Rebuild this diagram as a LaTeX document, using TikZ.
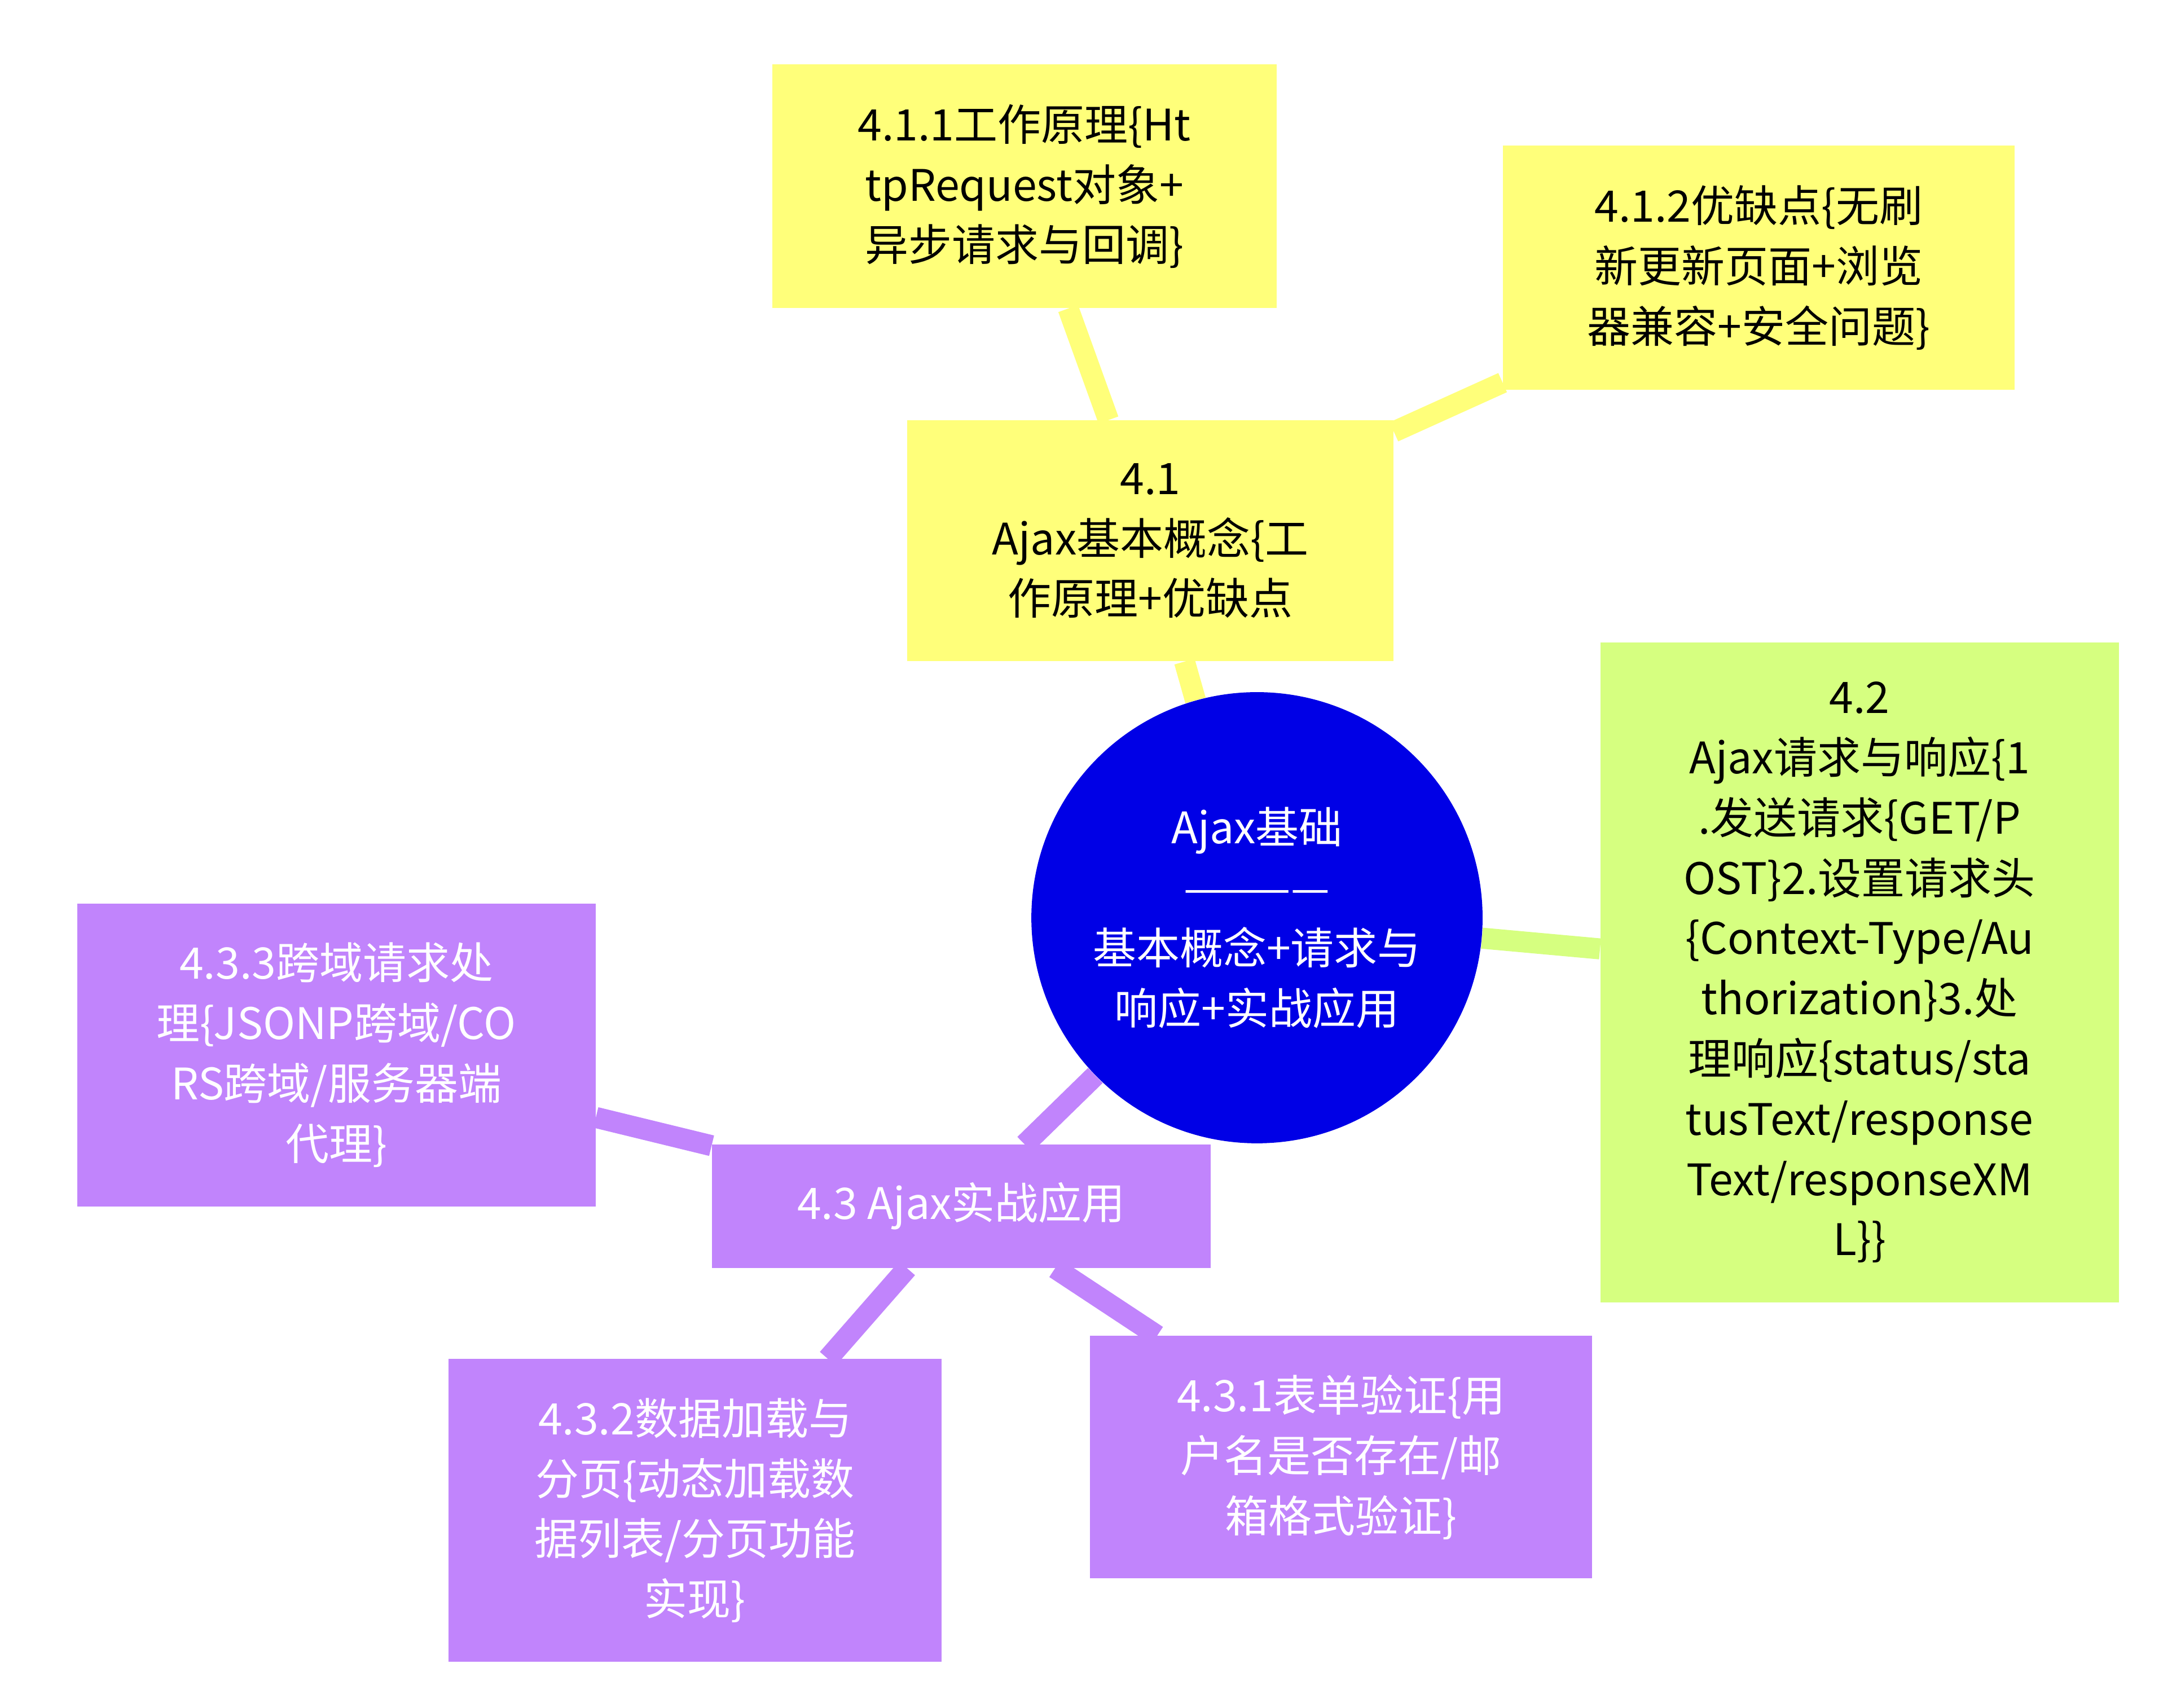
\documentclass[tikz,border=0pt]{standalone}
\usepackage{fontspec}
\setmainfont{Noto Sans CJK SC}
\usetikzlibrary{positioning,backgrounds}
\definecolor{rootblue}{RGB}{0,0,230}
\definecolor{yel}{RGB}{255,255,122}
\definecolor{grn}{RGB}{214,255,128}
\definecolor{pur}{RGB}{193,132,252}
\tikzset{
	every node/.style={align=center,inner sep=0pt,font=\fontsize{31}{43}\selectfont},
	topic/.style={rectangle,fill=#1},
	link/.style={line width=15pt,draw=#1},
}
\begin{document}
\begin{tikzpicture}[x=1pt,y=-1pt]
	\useasboundingbox (0,0) rectangle (1550,1219);
	% root.....................
	\node [circle,fill=rootblue,minimum size=322pt,text=white] (root) at (897,655) {Ajax基础\\————\\基本概念+请求与\\响应+实战应用};
	
	% 4.1 branch...............
	\node [topic=yel,minimum width=347pt,minimum height=172pt] (n41) at (821,386) {4.1\\Ajax基本概念\{工\\作原理+优缺点};
	\node [topic=yel,minimum width=360pt,minimum height=174pt] (n411) at (731,133) {4.1.1工作原理\{Ht\\tpRequest对象+\\异步请求与回调\}};
	\node [topic=yel,minimum width=365pt,minimum height=174pt] (n412) at (1255,191) {4.1.2优缺点\{无刷\\新更新页面+浏览\\器兼容+安全问题\}};
	
	% 4.2 branch...............
	\node [topic=grn,minimum width=370pt,minimum height=471pt] (n42) at (1327,694) {4.2\\Ajax请求与响应\{1\\.发送请求\{GET/P\\OST\}2.设置请求头\\\{Context-Type/Au\\thorization\}3.处\\理响应\{status/sta\\tusText/response\\Text/responseXM\\L\}\}};
	
	% 4.3 branch...............
	\node [topic=pur,minimum width=356pt,minimum height=88pt,text=white] (n43) at (686,861) {4.3 Ajax实战应用};
	\node [topic=pur,minimum width=370pt,minimum height=216pt,text=white] (n433) at (240,753) {4.3.3跨域请求处\\理\{JSONP跨域/CO\\RS跨域/服务器端\\代理\}};
	\node [topic=pur,minimum width=352pt,minimum height=216pt,text=white] (n432) at (496,1078) {4.3.2数据加载与\\分页\{动态加载数\\据列表/分页功能\\实现\}};
	\node [topic=pur,minimum width=358pt,minimum height=173pt,text=white] (n431) at (957,1040) {4.3.1表单验证\{用\\户名是否存在/邮\\箱格式验证\}};
	
	% links..................
	\begin{scope}[on background layer]
		\draw [link=yel] (root) -- (n41);
		\draw [link=yel] (n41.north) ++(-30,0) -- (n411);
		\draw [link=yel] (n41) -- (n412);
		\draw [link=grn] (root) -- (n42);
		\draw [link=pur] (root) -- (n43);
		\draw [link=pur] (n43) -- (n433);
		\draw [link=pur] (n43) -- (n432);
		\draw [link=pur] (n43) -- (n431);
	\end{scope}
\end{tikzpicture}
\end{document}
